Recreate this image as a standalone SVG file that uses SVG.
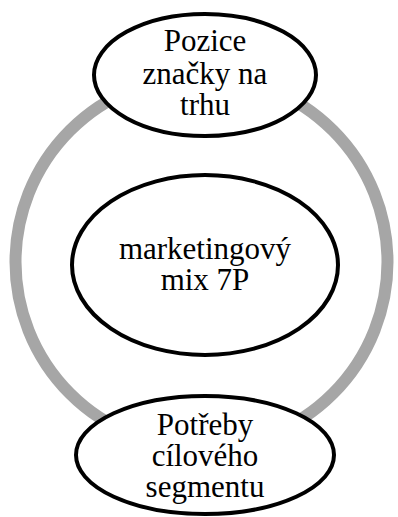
<svg xmlns="http://www.w3.org/2000/svg" width="398" height="517" viewBox="0 0 398 517">
<style>
.node{fill:#fff;stroke:#000;stroke-width:4}
.lbl{font-family:"Liberation Serif","Times New Roman",serif;font-size:31px;fill:#000;text-anchor:middle}
.ring{fill:none;stroke:#a6a6a6;stroke-width:12}
</style>
<g id="connectors">
<circle class="ring" cx="201.5" cy="262" r="186"/>
</g>
<g id="node-center">
<ellipse class="node" cx="205" cy="265" rx="133" ry="90"/>
<text class="lbl" x="205" y="259">marketingový</text>
<text class="lbl" x="205" y="290">mix 7P</text>
</g>
<g id="node-top">
<ellipse class="node" cx="205" cy="75" rx="111" ry="61"/>
<text class="lbl" x="205" y="51">Pozice</text>
<text class="lbl" x="205" y="84">značky na</text>
<text class="lbl" x="205" y="115">trhu</text>
</g>
<g id="node-bottom">
<ellipse class="node" cx="205" cy="455" rx="129" ry="59"/>
<text class="lbl" x="205" y="435">Potřeby</text>
<text class="lbl" x="205" y="466">cílového</text>
<text class="lbl" x="205" y="497">segmentu</text>
</g>
</svg>
